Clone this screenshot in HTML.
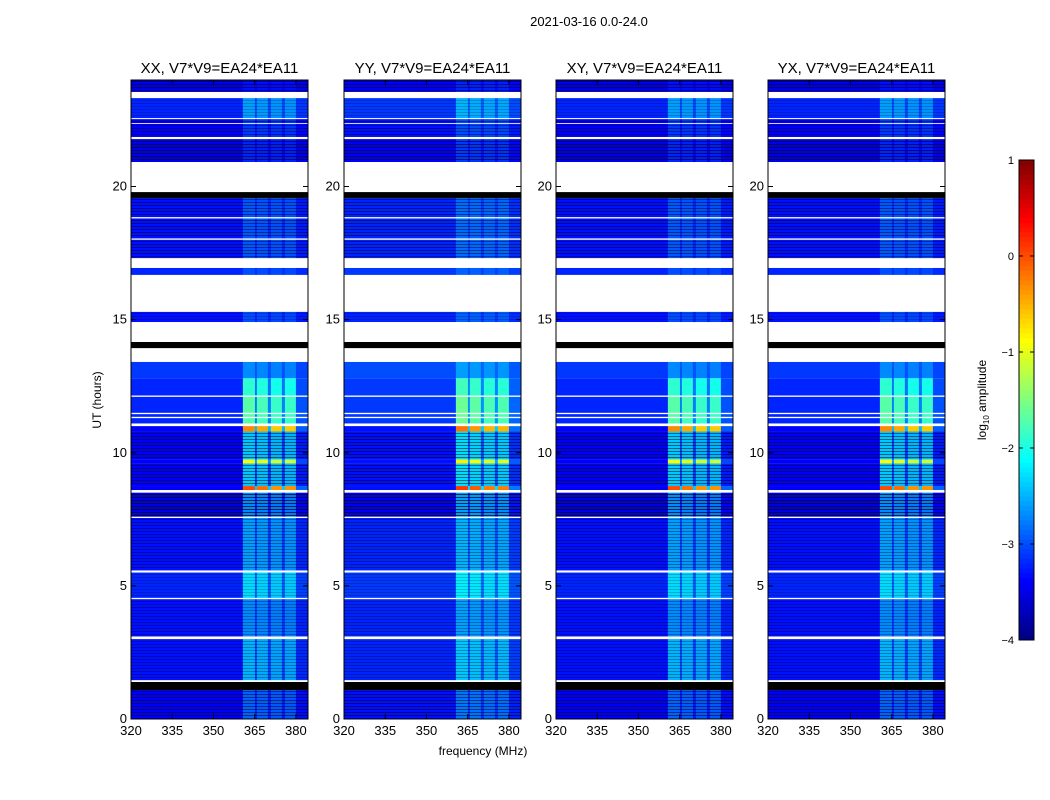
<!DOCTYPE html>
<html><head><meta charset="utf-8">
<style>
body{margin:0;background:#fff;}
svg{display:block;font-family:"Liberation Sans","DejaVu Sans",sans-serif;}
</style></head>
<body>
<svg id="fig" width="1050" height="800" viewBox="0 0 1050 800">
<text x="589" y="26" font-size="13" text-anchor="middle">2021-03-16 0.0-24.0</text>
<text x="483" y="755" font-size="12" text-anchor="middle">frequency (MHz)</text>
<text transform="translate(101,400) rotate(-90)" font-size="12" text-anchor="middle">UT (hours)</text>
<text transform="translate(986,400) rotate(-90)" font-size="12" text-anchor="middle">log<tspan font-size="8" dy="3">10</tspan><tspan dy="-3"> amplitude</tspan></text>
<g id="panels"></g>
<g id="cbar"></g>
</svg>
<script>
// ---- data ----
const panelTitles = ["XX, V7*V9=EA24*EA11","YY, V7*V9=EA24*EA11","XY, V7*V9=EA24*EA11","YX, V7*V9=EA24*EA11"];
const panelBias = [0, 0.1, 0, 0];
// time bands (hours); kind: d=data, w=flagged(white), k=black
const bandStart = [0,1.09,1.39,1.46,3.0,3.1,4.5,4.55,5.5,5.58,7.55,7.6,8.5,8.6,8.75,9.6,9.75,10.8,11.0,11.1,11.3,11.35,11.45,11.5,12.1,12.15,12.8,13.41,13.93,14.16,14.91,15.29,16.68,16.94,17.31,18.0,18.05,18.8,18.85,19.57,19.79,20.92,21.78,21.86,22.35,22.38,22.53,22.57,23.32,23.55];
const bandEnd   = [1.09,1.39,1.46,3.0,3.1,4.5,4.55,5.5,5.58,7.55,7.6,8.5,8.6,8.75,9.6,9.75,10.8,11.0,11.1,11.3,11.35,11.45,11.5,12.1,12.15,12.8,13.41,13.93,14.16,14.91,15.29,16.68,16.94,17.31,18.0,18.05,18.8,18.85,19.57,19.79,20.92,21.78,21.86,22.35,22.38,22.53,22.57,23.32,23.55,24];
const bandKind  = ["d","k","w","d","w","d","w","d","w","d","w","d","w","d","d","d","d","d","w","d","w","d","w","d","w","d","d","w","k","w","d","w","d","w","d","w","d","w","d","k","w","d","w","d","w","d","w","d","w","d"];
const bandLevel = [-3.4,0,0,-3.3,0,-3.3,0,-3.2,0,-3.3,0,-3.5,0,-3.4,-3.4,-3.4,-3.4,-3.4,0,-3.2,0,-3.2,0,-3.2,0,-3.2,-3.1,0,0,0,-3.3,0,-3.2,0,-3.3,0,-3.3,0,-3.3,0,0,-3.5,0,-3.4,0,-3.4,0,-3.2,0,-3.5];
const bandRfi   = [0.5,0,0,0.8,0,0.6,0,0.9,0,0.7,0,0.8,0,3.4,1.0,2.5,1.0,3.1,0,1.5,0,1.5,0,1.5,0,1.3,0.4,0,0,0,0.3,0,0.2,0,0.35,0,0.35,0,0.35,0,0,0.3,0,0.3,0,0.3,0,0.6,0,0.2];
const bandStripe= [0.5,0,0,0.3,0,0.3,0,0.2,0,0.35,0,0.7,0,0,0.5,0,0.5,0,0,0,0,0,0,0,0,0,0,0,0,0,0.2,0,0,0,0.45,0,0.45,0,0.45,0,0,0.6,0,0.4,0,0.4,0,0.2,0,0.5];
// frequency channel groups (MHz)
const chanLo   = [320,360.7,365.1,365.8,369.8,370.9,374.9,376.0,380.0];
const chanHi   = [360.7,365.1,365.8,369.8,370.9,374.9,376.0,380.0,384.4];
const chanGain = [0,1,0.3,0.95,0.3,0.9,0.3,0.9,0.15];
const yTicks = [0,5,10,15,20];
const xTicks = [320,335,350,365,380];
const cbTicks = [1,0,-1,-2,-3,-4];

// ---- geometry ----
const NS="http://www.w3.org/2000/svg";
const panelLeft=[131,344,556,768], PW=177, PT=80, PB=719;
const fMin=320, fMax=384.4, tMin=0, tMax=24, vMin=-4, vMax=1;
function mk(tag,attrs,parent){const e=document.createElementNS(NS,tag);for(const k in attrs)e.setAttribute(k,attrs[k]);parent.appendChild(e);return e;}
function jet(v){let t=(v-vMin)/(vMax-vMin);t=Math.max(0,Math.min(1,t));
 const r=Math.max(0,Math.min(1,1.5-Math.abs(4*t-3))),g=Math.max(0,Math.min(1,1.5-Math.abs(4*t-2))),b=Math.max(0,Math.min(1,1.5-Math.abs(4*t-1)));
 return `rgb(${Math.round(r*255)},${Math.round(g*255)},${Math.round(b*255)})`;}
const yS=h=>PB-(h-tMin)/(tMax-tMin)*(PB-PT);

const panelsG=document.getElementById('panels');
panelTitles.forEach((title,p)=>{
 const L=panelLeft[p];
 const xS=f=>L+(f-fMin)/(fMax-fMin)*PW;
 const g=mk('g',{},panelsG);
 
 
 for(let i=0;i<bandStart.length;i++){
  const y0=yS(bandEnd[i]), y1=yS(bandStart[i]);
  if(bandKind[i]==='w') continue;
  if(bandKind[i]==='k'){const r=mk('rect',{x:L,y:y0,width:PW,height:y1-y0,fill:'#000'},g);
   continue;}
  for(let c=0;c<chanLo.length;c++){
   const v=bandLevel[i]+panelBias[p]+bandRfi[i]*chanGain[c];
   const x0=xS(chanLo[c]), x1=xS(chanHi[c]);
   const r=mk('rect',{x:x0,y:y0,width:x1-x0+0.3,height:y1-y0,fill:jet(v)},g);
   
   
  }
  if(bandStripe[i]>0){
   for(let yy=Math.ceil(y0)+1;yy<y1-1;yy+=3){
    const s=mk('rect',{x:L,y:yy,width:PW,height:1,fill:'#000',opacity:bandStripe[i]},g);
    
   }
  }
 }
 const fr=mk('rect',{x:L,y:PT,width:PW,height:PB-PT,fill:'none',stroke:'#000','stroke-width':1},g);
 
 const tt=mk('text',{x:L+PW/2,y:73,'font-size':15,'text-anchor':'middle'},g);tt.textContent=title;
 
 yTicks.forEach(h=>{const y=yS(h);
  mk('line',{x1:L,x2:L+5,y1:y,y2:y,stroke:'#000'},g);mk('line',{x1:L+PW-5,x2:L+PW,y1:y,y2:y,stroke:'#000'},g);
  const t=mk('text',{x:L-4,y:y+4,'font-size':13,'text-anchor':'end'},g);t.textContent=h;
  });
 xTicks.forEach(f=>{const x=xS(f);
  mk('line',{x1:x,x2:x,y1:PB,y2:PB-5,stroke:'#000'},g);mk('line',{x1:x,x2:x,y1:PT,y2:PT+5,stroke:'#000'},g);
  const t=mk('text',{x:x,y:PB+16,'font-size':13,'text-anchor':'middle'},g);t.textContent=f;
  });
});

// colorbar
const cb=document.getElementById('cbar');
const CX=1019,CW=15,CT=160,CB=640;
const cyS=v=>CB-(v-vMin)/(vMax-vMin)*(CB-CT);
for(let k=0;k<100;k++){const v0=vMin+k*(vMax-vMin)/100,v1=vMin+(k+1)*(vMax-vMin)/100;
 const r=mk('rect',{x:CX,y:cyS(v1),width:CW,height:cyS(v0)-cyS(v1)+0.5,fill:jet((v0+v1)/2)},cb);
 }
const cf=mk('rect',{x:CX,y:CT,width:CW,height:CB-CT,fill:'none',stroke:'#000'},cb);

cbTicks.forEach(v=>{const y=cyS(v);
 mk('line',{x1:CX,x2:CX+4,y1:y,y2:y,stroke:'#000'},cb);mk('line',{x1:CX+CW-4,x2:CX+CW,y1:y,y2:y,stroke:'#000'},cb);
 const t=mk('text',{x:CX-5,y:y+4,'font-size':11,'text-anchor':'end'},cb);t.textContent=(v<0?'\u2212'+(-v):v);
 });
</script>
</body></html>
